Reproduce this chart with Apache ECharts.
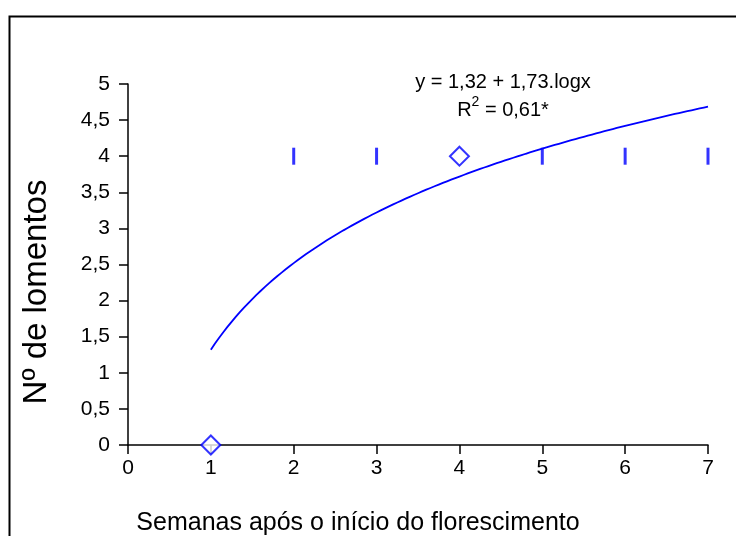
<!DOCTYPE html>
<html>
<head>
<meta charset="utf-8">
<script src="https://cdn.jsdelivr.net/npm/echarts@6/dist/echarts.min.js"></script>
<style>
  html, body { margin: 0; padding: 0; background: #fff; }
  #chart { width: 736px; height: 536px; }
</style>
</head>
<body>
<div id="chart"></div>
<script>
// Observed counts per week (diamond markers)
const weeksDiamond = [1, 4];
const countsDiamond = [0, 4];
// Observed counts per week (bar markers)
const weeksBar = [2, 3, 5, 6, 7];
const countsBar = [4, 4, 4, 4, 4];
// Logarithmic fit: y = a + b·ln(x)
const fitCoef = [1.32, 1.73];
const fitRange = [1, 7];
const yTicks = ['0', '0,5', '1', '1,5', '2', '2,5', '3', '3,5', '4', '4,5', '5'];

const fitLine = [];
for (let i = 0; i <= 120; i++) {
  const x = fitRange[0] + (fitRange[1] - fitRange[0]) * i / 120;
  fitLine.push([x, fitCoef[0] + fitCoef[1] * Math.log(x)]);
}

const BLUE = '#0000ff';
const FONT = 'Liberation Sans, Arial, sans-serif';

const chart = echarts.init(document.getElementById('chart'), null, { renderer: 'canvas' });
chart.setOption({
  backgroundColor: '#fff',
  animation: false,
  grid: { left: 128, right: 28, top: 84, bottom: 91 },
  xAxis: {
    type: 'value', min: 0, max: 7, interval: 1,
    axisLine: { onZero: false, lineStyle: { color: '#000', width: 1.5 } },
    axisTick: { length: 9, lineStyle: { color: '#000', width: 1.5 } },
    axisLabel: { color: '#000', fontSize: 21, fontFamily: FONT, margin: 13 },
    splitLine: { show: false }
  },
  yAxis: {
    type: 'value', min: 0, max: 5, interval: 0.5,
    axisLine: { show: true, lineStyle: { color: '#000', width: 1.5 } },
    axisTick: { show: true, length: 9, lineStyle: { color: '#000', width: 1.5 } },
    axisLabel: {
      color: '#000', fontSize: 21, fontFamily: FONT, margin: 18,
      formatter: (v) => yTicks[Math.round(v * 2)]
    },
    splitLine: { show: false }
  },
  series: [
    {
      type: 'line', data: fitLine, showSymbol: false, smooth: false,
      lineStyle: { color: BLUE, width: 1.8 }, z: 2
    },
    {
      type: 'scatter', data: weeksDiamond.map((x, i) => [x, countsDiamond[i]]),
      symbol: 'diamond', symbolSize: [19, 19],
      itemStyle: { color: '#fff', borderColor: BLUE, borderWidth: 2 }, z: 3
    },
    {
      type: 'scatter', data: weeksBar.map((x, i) => [x, countsBar[i]]),
      symbol: 'rect', symbolSize: [3, 17],
      itemStyle: { color: BLUE }, z: 3
    }
  ],
  graphic: [
    {
      type: 'rect', left: 7, top: 14,
      shape: { width: 760, height: 560 },
      style: { fill: 'none', stroke: '#000', lineWidth: 2 }, silent: true
    },
    {
      type: 'text',
      style: {
        text: 'Nº de lomentos', fontSize: 33, fontFamily: FONT, fill: '#000',
        align: 'center', verticalAlign: 'middle'
      },
      x: 37, y: 292, rotation: Math.PI / 2
    },
    {
      type: 'text',
      style: {
        text: 'Semanas após o início do florescimento', fontSize: 25, fontFamily: FONT,
        fill: '#000', align: 'center', verticalAlign: 'middle'
      },
      x: 358, y: 523
    },
    {
      type: 'text',
      style: {
        text: 'y = 1,32 + 1,73.logx', fontSize: 20, fontFamily: FONT,
        fill: '#000', align: 'center', verticalAlign: 'middle'
      },
      x: 503, y: 82
    },
    {
      type: 'text',
      style: {
        text: '{r|R}{s|2}{r| = 0,61*}',
        rich: {
          r: { fontSize: 20, fontFamily: FONT, fill: '#000' },
          s: { fontSize: 14, fontFamily: FONT, fill: '#000', padding: [0, 0, 15, 0] }
        },
        align: 'center', verticalAlign: 'middle'
      },
      x: 503, y: 110
    }
  ]
});
</script>
</body>
</html>
